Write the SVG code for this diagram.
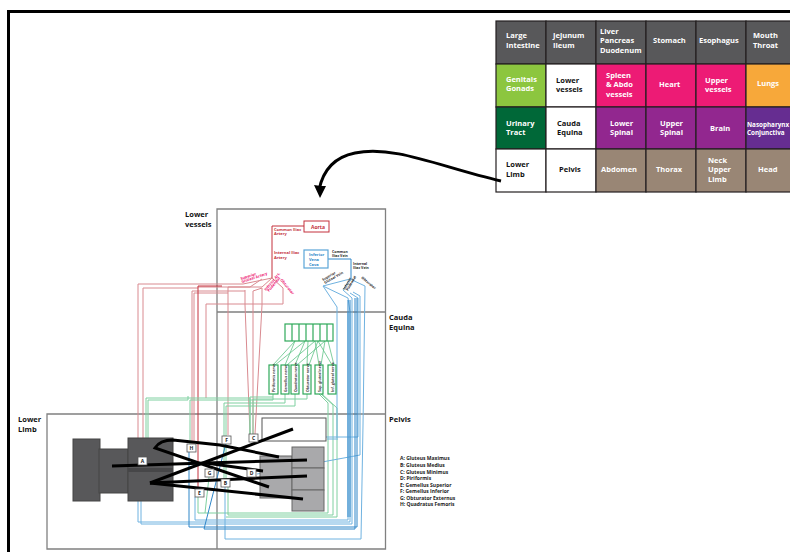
<svg xmlns="http://www.w3.org/2000/svg" width="790" height="552" viewBox="0 0 790 552">
<style>
text{font-family:"Open Sans","Liberation Sans",sans-serif;font-weight:700}
.t text{font-size:7.5px;fill:#fff}
.k text{fill:#111}
.lb{font-size:7.5px;fill:#111}
.c{stroke:#231f20;stroke-width:1.2;}
.frame{fill:none;stroke:#808080;stroke-width:1.3}
.r{fill:none;stroke:#d98a90;stroke-width:1}
.rd{fill:none;stroke:#c4303c;stroke-width:1}
.g{fill:none;stroke:#7fd0a0;stroke-width:1}
.b{fill:none;stroke:#6fb2e0;stroke-width:1}
.bd{fill:none;stroke:#2e86c8;stroke-width:1}
.m{fill:none;stroke:#000;stroke-width:3}
.gy{fill:#58585a;stroke:#444}
.ly{fill:#a9a9ab;stroke:#666}
.tag rect{fill:#fff;stroke:#555;stroke-width:.8}
.tag text{font-size:5px;fill:#222;text-anchor:middle}
.gb{fill:#fff;stroke:#2fa95a;stroke-width:1.2}
</style>
<rect width="790" height="552" fill="#fff"/>
<path d="M8.500 552V11.500H790" fill="none" stroke="#000" stroke-width="3"/>
<g id="table">
<g class="c">
<rect x="496" y="21" width="50" height="43" fill="#58585a"/><rect x="546" y="21" width="50" height="43" fill="#58585a"/><rect x="596" y="21" width="50" height="43" fill="#58585a"/><rect x="646" y="21" width="50" height="43" fill="#58585a"/><rect x="696" y="21" width="50" height="43" fill="#58585a"/><rect x="746" y="21" width="46" height="43" fill="#58585a"/>
<rect x="496" y="64" width="50" height="43" fill="#8cc63f"/><rect x="546" y="64" width="50" height="43" fill="#fff"/><rect x="596" y="64" width="50" height="43" fill="#ed1b75"/><rect x="646" y="64" width="50" height="43" fill="#ed1b75"/><rect x="696" y="64" width="50" height="43" fill="#ed1b75"/><rect x="746" y="64" width="46" height="43" fill="#f7a83a"/>
<rect x="496" y="107" width="50" height="42" fill="#006838"/><rect x="546" y="107" width="50" height="42" fill="#fff"/><rect x="596" y="107" width="50" height="42" fill="#92278f"/><rect x="646" y="107" width="50" height="42" fill="#92278f"/><rect x="696" y="107" width="50" height="42" fill="#92278f"/><rect x="746" y="107" width="46" height="42" fill="#662d91"/>
<rect x="496" y="149" width="50" height="43" fill="#fff"/><rect x="546" y="149" width="50" height="43" fill="#fff"/><rect x="596" y="149" width="50" height="43" fill="#998675"/><rect x="646" y="149" width="50" height="43" fill="#998675"/><rect x="696" y="149" width="50" height="43" fill="#998675"/><rect x="746" y="149" width="46" height="43" fill="#998675"/>
</g>
<g class="t">
<text x="506" y="38">Large</text><text x="506" y="48">Intestine</text>
<text x="553" y="38">Jejunum</text><text x="553" y="48">Ileum</text>
<text x="600" y="34">Liver</text><text x="600" y="43">Pancreas</text><text x="600" y="53">Duodenum</text>
<text x="653" y="43">Stomach</text><text x="699" y="43">Esophagus</text>
<text x="753" y="38">Mouth</text><text x="753" y="48">Throat</text>
<text x="506" y="82">Genitals</text><text x="506" y="91">Gonads</text>
<text x="606" y="78">Spleen</text><text x="606" y="87">&amp; Abdo</text><text x="606" y="97">vessels</text>
<text x="659" y="87">Heart</text><text x="705" y="83">Upper</text><text x="705" y="92">vessels</text><text x="757" y="86">Lungs</text>
<text x="506" y="126">Urinary</text><text x="506" y="135">Tract</text>
<text x="610" y="126">Lower</text><text x="610" y="135">Spinal</text>
<text x="660" y="126">Upper</text><text x="660" y="135">Spinal</text>
<text x="710" y="131">Brain</text>
<text x="747" y="127" style="font-size:6.300px">Nasopharynx</text><text x="747" y="135" style="font-size:6.300px">Conjunctiva</text>
<text x="601" y="172">Abdomen</text><text x="656" y="172">Thorax</text>
<text x="708" y="163">Neck</text><text x="708" y="172">Upper</text><text x="708" y="182">Limb</text><text x="758" y="172">Head</text>
</g>
<g class="k" style="font-size:7.500px">
<text x="556" y="83">Lower</text><text x="556" y="92">vessels</text>
<text x="557" y="126">Cauda</text><text x="557" y="135">Equina</text>
<text x="506" y="167">Lower</text><text x="506" y="177">Limb</text>
<text x="559" y="172">Pelvis</text>
</g>
</g>
<g id="regions">
<path class="frame" d="M217 414V209H385.500V549H47V414H386M217 414V549M217 312H386"/>
<text class="lb" x="185" y="217">Lower</text><text class="lb" x="185" y="227">vessels</text>
<text class="lb" x="389" y="320">Cauda</text><text class="lb" x="389" y="330">Equina</text>
<text class="lb" x="18" y="422">Lower</text><text class="lb" x="18" y="432">Limb</text>
<text class="lb" x="389" y="422">Pelvis</text>
</g>
<g id="connectors">
<path d="M501 181C440 167 395 145 355 153C335 157 323 170 319 190" fill="none" stroke="#000" stroke-width="3"/>
<path d="M321 186L326 186L320 198L314 185Z" fill="#000"/>
<g class="r">
<path d="M138 457V284H243L272 278"/><path d="M143 457V288H198"/>
<path d="M192 445V291H245"/><path d="M194 445V293H228"/>
<path d="M206 398V304H283V288L272 278"/><path d="M228 435V287H262L272 278"/>
<path d="M198 287H250L262 279"/>
<path d="M245 290V305L250 434"/><path d="M253 291L262 288"/><path d="M253 291V434"/><path d="M262 288V305L255 434"/>
</g>
<g class="rd">
<path d="M198 489V286H222"/>
<path d="M304 226H272V278"/>
</g>
<g class="g">
<path d="M146 457V398H250V434"/><path d="M148 457V400H188V396"/>
<path d="M190 445V400H273V394"/>
<path d="M224 480V403H285V394"/><path d="M226 480V406H295V394"/>
<path d="M250 434V397H273"/><path d="M253 434V399H307V394"/>
<path d="M319 394L328 403V513H198V497"/><path d="M321 394L333 405V515H228V487"/><path d="M322 394L337 408V517H226"/>
<path d="M209 477L205 513"/>
</g>
<g stroke="#5fc386" stroke-width=".8" fill="none">
<path d="M273 365L295 341"/><path d="M275 365L305 341"/><path d="M285 365L295 341"/><path d="M287 365L315 341"/><path d="M295 365L305 341"/><path d="M297 365L325 341"/><path d="M307 365L308 341"/><path d="M309 365L318 341"/><path d="M319 365L315 341"/><path d="M321 365L325 341"/><path d="M332 365L318 341"/><path d="M334 365L328 341"/>
</g>
<g class="b">
<path d="M350 279L323 286L337 307V438"/>
<path d="M138 464V522H350V312L348 298L323 286"/>
<path d="M141 464V524H352V298L343 290L350 279"/>
<path d="M195 497V520H348V312"/>
<path d="M225 487V539H361L363 425L365 286L350 279"/>
<path d="M257 474L360 455V296L353 292"/>
<path d="M263 437H358V298L350 293"/><path d="M327 439H338"/>
</g>
<g class="bd">
<path d="M189 452V527H357V298"/>
<path d="M226 443L204 529H355V298"/>
<path d="M348 300V517"/><path d="M350 300V517"/>
<path d="M328 259H351V279"/>
</g>
</g>
<g id="muscles-limb">
<rect class="gy" x="73" y="439" width="27" height="62"/>
<rect class="gy" x="99" y="449" width="29" height="44"/>
<rect class="gy" x="128" y="438" width="45" height="63"/>
<rect x="128" y="468" width="45" height="4" fill="#464648"/>
</g>
<g id="muscles-pelvis">
<rect x="262" y="418" width="64" height="23" fill="#fff" stroke="#555"/>
<rect class="ly" x="260" y="456" width="32" height="42"/>
<rect class="ly" x="292" y="447" width="32" height="21"/>
<rect class="ly" x="292" y="468" width="32" height="22"/>
<rect class="ly" x="292" y="490" width="32" height="21"/>
</g>
<g id="arteries">
<rect x="304" y="221" width="25" height="11" fill="#fff" stroke="#c4303c"/>
<text x="311" y="229" style="font-size:5px;fill:#c4303c">Aorta</text>
<text x="274" y="231" style="font-size:4px;fill:#c4303c">Common Iliac</text><text x="274" y="235" style="font-size:4px;fill:#c4303c">Artery</text>
<text x="274" y="254" style="font-size:4px;fill:#c4303c">Internal Iliac</text><text x="274" y="259" style="font-size:4px;fill:#c4303c">Artery</text>
<text transform="translate(241 280) rotate(-18)" style="font-size:3.800px;fill:#ed1b75">Superior</text><text transform="translate(242 283) rotate(-18)" style="font-size:3.800px;fill:#ed1b75">Gluteal Artery</text>
<text transform="translate(266 291) rotate(-50)" style="font-size:3.800px;fill:#ed1b75">Inferior Art.</text><text transform="translate(269 292) rotate(-50)" style="font-size:3.800px;fill:#ed1b75">Pudendal</text>
<text transform="translate(280 280) rotate(50)" style="font-size:3.800px;fill:#ed1b75">Obturator</text>
</g>
<g id="veins">
<rect x="304" y="250" width="24" height="18" fill="#fff" stroke="#5aa5d8" stroke-width="1.200"/>
<text x="309" y="256" style="font-size:4px;fill:#2e86c8">Inferior</text><text x="309" y="261" style="font-size:4px;fill:#2e86c8">Vena</text><text x="309" y="265.500" style="font-size:4px;fill:#2e86c8">Cava</text>
<text x="332" y="253" style="font-size:3.500px;fill:#222">Common</text><text x="332" y="257" style="font-size:3.500px;fill:#222">Iliac Vein</text>
<text x="353" y="265" style="font-size:3.500px;fill:#222">Internal</text><text x="353" y="269" style="font-size:3.500px;fill:#222">Iliac Vein</text>
<text transform="translate(323 281) rotate(-30)" style="font-size:3.500px;fill:#222">Superior</text><text transform="translate(325 284) rotate(-30)" style="font-size:3.500px;fill:#222">Gluteal Vein</text>
<text transform="translate(345 290) rotate(-60)" style="font-size:3.500px;fill:#222">Inferior</text><text transform="translate(348 291) rotate(-60)" style="font-size:3.500px;fill:#222">Pudendal</text>
<text transform="translate(361 278) rotate(40)" style="font-size:3.500px;fill:#222">Obturator</text>
</g>
<g id="sacral">
<g><rect class="gb" x="285" y="324" width="48" height="17"/><path d="M292 324v17M299 324v17M306 324v17M313 324v17M320 324v17M327 324v17" stroke="#2fa95a" stroke-width="1.200"/></g>
<g>
<rect class="gb" x="269" y="365" width="9" height="29"/><rect class="gb" x="281" y="365" width="8" height="29"/><rect class="gb" x="291" y="365" width="8" height="29"/><rect class="gb" x="303" y="365" width="8" height="29"/><rect class="gb" x="315" y="365" width="8" height="29"/><rect class="gb" x="328" y="365" width="8" height="29"/>
</g>
<g style="font-size:3.500px;fill:#333">
<text transform="translate(275 392) rotate(-90)">Piriformis nerve</text><text transform="translate(287 392) rotate(-90)">Gemellus nerve</text><text transform="translate(297 392) rotate(-90)">Quadratus nerve</text><text transform="translate(309 392) rotate(-90)">Obturator nerve</text><text transform="translate(321 392) rotate(-90)">Sup. gluteal nerve</text><text transform="translate(334 392) rotate(-90)">Inf. gluteal nerve</text>
</g>
</g>
<g id="muscle-lines">
<path class="m" d="M112 466L206 463L263 471"/>
<path class="m" d="M206 463L307 460"/>
<path class="m" d="M150 483L293 429"/>
<path class="m" d="M150 483L307 476"/>
<path class="m" d="M150 483L303 499"/>
<path class="m" d="M269 487L155 448C158 443 165 440 173 440L220 445L279 457"/>
</g>
<g id="tags">
<g class="tag"><rect x="138" y="457" width="9" height="8"/><text x="142.500" y="463">A</text></g>
<g class="tag"><rect x="187" y="444" width="9" height="8"/><text x="191.500" y="450">H</text></g>
<g class="tag"><rect x="205" y="469" width="9" height="8"/><text x="209.500" y="475">G</text></g>
<g class="tag"><rect x="195" y="489" width="9" height="8"/><text x="199.500" y="495">E</text></g>
<g class="tag"><rect x="222" y="436" width="9" height="8"/><text x="226.500" y="442">F</text></g>
<g class="tag"><rect x="249" y="434" width="9" height="8"/><text x="253.500" y="440">C</text></g>
<g class="tag"><rect x="247" y="469" width="9" height="8"/><text x="251.500" y="475">D</text></g>
<g class="tag"><rect x="221" y="479" width="9" height="8"/><text x="225.500" y="485">B</text></g>
</g>
<g id="legend" style="font-size:5px;fill:#222">
<text x="400" y="460">A: Gluteus Maximus</text>
<text x="400" y="467">B: Gluteus Medius</text>
<text x="400" y="473.500">C: Gluteus Minimus</text>
<text x="400" y="480">D: Piriformis</text>
<text x="400" y="486.500">E: Gemellus Superior</text>
<text x="400" y="493">F: Gemellus Inferior</text>
<text x="400" y="499.500">G: Obturator Externus</text>
<text x="400" y="506">H: Quadratus Femoris</text>
</g>
</svg>
